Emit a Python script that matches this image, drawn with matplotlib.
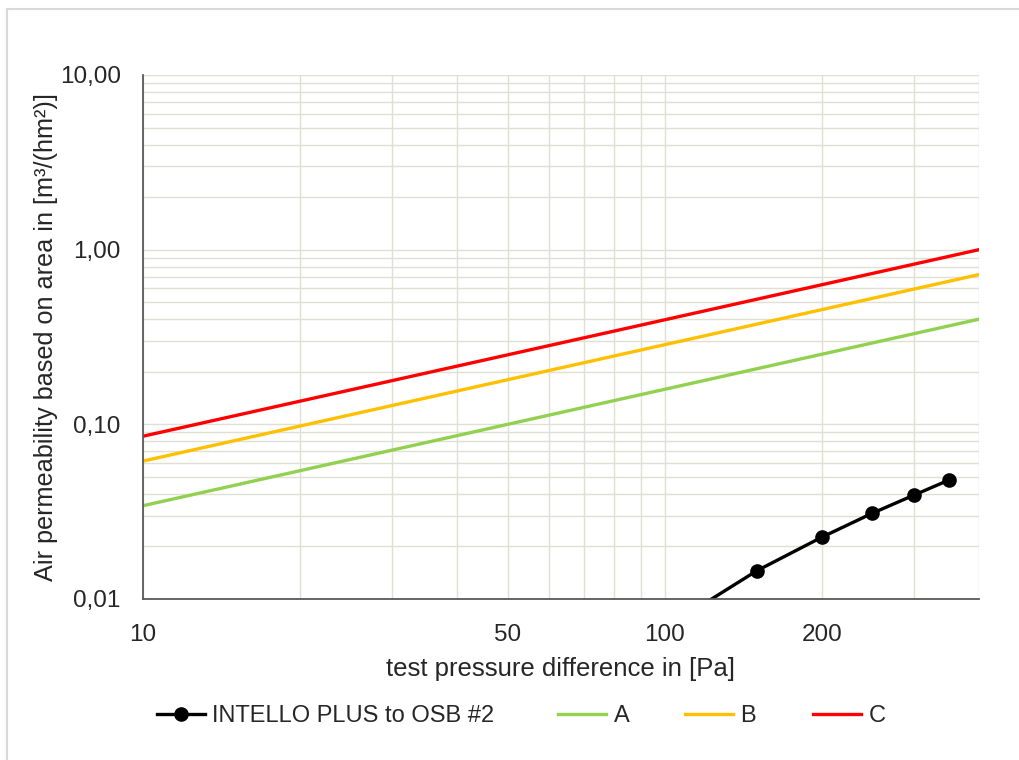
import matplotlib
matplotlib.use("Agg")
import matplotlib.pyplot as plt
from matplotlib.lines import Line2D
from matplotlib import font_manager
from matplotlib.font_manager import FontProperties

# ---- data ----
pressure = [100, 150, 200, 250, 300, 350]
intello = [0.0068, 0.0145, 0.0226, 0.031, 0.0393, 0.0479]
class_x = [10, 400]
class_a = [0.0342, 0.40]
class_b = [0.0616, 0.72]
class_c = [0.0855, 1.00]
xtick_vals = [10, 50, 100, 200]
xtick_labels = ["10", "50", "100", "200"]
ytick_vals = [0.01, 0.1, 1, 10]
ytick_labels = ["0,01", "0,10", "1,00", "10,00"]
series_names = ["INTELLO PLUS to OSB #2", "A", "B", "C"]

names = {f.name for f in font_manager.fontManager.ttflist}
base = "Liberation Sans" if "Liberation Sans" in names else "DejaVu Sans"
plt.rcParams['font.family'] = [base, 'DejaVu Sans']
legend_prop = FontProperties(family=[base, 'DejaVu Sans'], size=17)
txt_c = '#262626'

fig = plt.figure(figsize=(10.2, 7.6), dpi=100)
ax = fig.add_axes([143/1020, 1-599/760, (979-143)/1020, (599-75)/760])

grid_c = '#e0e0d2'
ax.set_xscale('log')
ax.set_yscale('log')
ax.set_xlim(10, 400)
ax.set_ylim(0.01, 10)
ax.grid(True, which='both', color=grid_c, lw=1.0)
ax.set_axisbelow(True)

ax.plot(class_x, class_a, color='#92D050', lw=2.4, label=series_names[1])
ax.plot(class_x, class_b, color='#FFC000', lw=2.4, label=series_names[2])
ax.plot(class_x, class_c, color='#FF0000', lw=2.4, label=series_names[3])
ax.plot(pressure, intello, color='black', lw=2.4, marker='o', ms=9.5,
        label=series_names[0])

ax.set_xticks(xtick_vals)
ax.set_xticklabels(xtick_labels)
ax.set_yticks(ytick_vals)
ax.set_yticklabels(ytick_labels)
ax.xaxis.set_minor_formatter(plt.NullFormatter())
ax.yaxis.set_minor_formatter(plt.NullFormatter())
ax.tick_params(which='both', length=0, labelsize=17.5, colors=txt_c)
ax.tick_params(axis='x', pad=18)
ax.tick_params(axis='y', pad=16)

for s in ['top', 'right']:
    ax.spines[s].set_visible(False)
for s in ['left', 'bottom']:
    ax.spines[s].set_color('#595959')
    ax.spines[s].set_linewidth(1.3)

ax.set_xlabel("test pressure difference in [Pa]", fontsize=18.5, color=txt_c, labelpad=8)
ax.set_ylabel("Air permeability based on area in [m³/(hm²)]", fontsize=18.2, color=txt_c, labelpad=1)

# legend entries placed like the reference
h, l = ax.get_legend_handles_labels()
hd = dict(zip(l, h))
starts = [157, 558, 685, 813]
for name, xs in zip(series_names, starts):
    lg = fig.legend([hd[name]], [name], loc='center left',
                    bbox_to_anchor=(xs/1020, 1-716/760), frameon=False,
                    prop=legend_prop, borderpad=0, borderaxespad=0,
                    handlelength=2.05, handletextpad=0.3)
    for t in lg.get_texts():
        t.set_color(txt_c)

# outer frame lines (top & left)
fig.add_artist(Line2D([7/1020, 7/1020], [1-9/760, 0], color='#d9d9d9', lw=1.5))
fig.add_artist(Line2D([7/1020, 1], [1-9/760, 1-9/760], color='#d9d9d9', lw=1.5))

fig.savefig("out.png", dpi=100)
